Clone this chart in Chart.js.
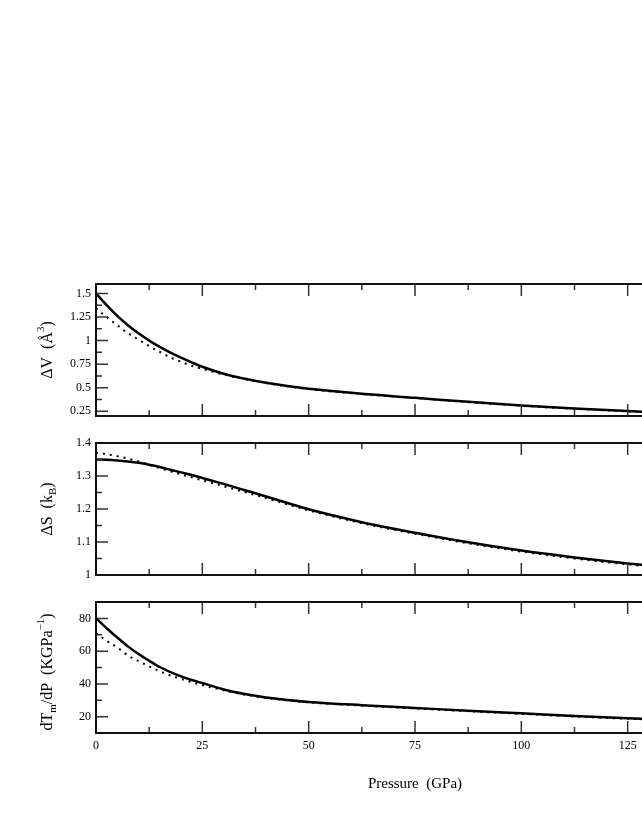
<!DOCTYPE html>
<html><head><meta charset="utf-8">
<script src="https://cdn.jsdelivr.net/npm/chart.js@4.4.1/dist/chart.umd.min.js"></script>
<style>
html,body{margin:0;padding:0;background:#fff;overflow:hidden;width:642px;height:830px;}
canvas{position:absolute;left:0;}
</style></head><body>
<canvas id="c1" width="760" height="150" style="top:274px"></canvas>
<canvas id="c2" width="760" height="150" style="top:433px"></canvas>
<canvas id="c3" width="760" height="238" style="top:592px"></canvas>
<script>
// ---- data ----
const pressure = [0,2.5,5,7.5,10,12.5,15,17.5,20,22.5,25,30,35,40,45,50,62.5,75,87.5,100,112.5,125,130];
const dV_solid  = [1.5,1.375,1.262,1.163,1.077,1.0,0.933,0.872,0.818,0.768,0.722,0.648,0.595,0.552,0.517,0.488,0.435,0.393,0.350,0.312,0.280,0.252,0.243];
const dV_dotted = [1.344,1.25,1.163,1.079,1.01,0.941,0.88,0.822,0.775,0.733,0.700,0.640,0.590,0.549,0.514,0.485,0.432,0.390,0.347,0.309,0.277,0.249,0.240];
const dS_solid  = [1.350,1.349,1.347,1.344,1.340,1.334,1.327,1.319,1.311,1.303,1.294,1.276,1.257,1.238,1.218,1.199,1.160,1.128,1.099,1.074,1.053,1.035,1.029];
const dS_dotted = [1.371,1.366,1.360,1.353,1.344,1.334,1.324,1.314,1.305,1.296,1.287,1.269,1.251,1.233,1.214,1.196,1.157,1.125,1.096,1.071,1.050,1.032,1.026];
const dT_solid  = [80,74,68.3,62.9,58.2,54.1,50.3,47.2,44.6,42.4,40.5,36.6,33.8,31.7,30.2,29.0,27.0,25.3,23.6,22.0,20.4,19.0,18.5];
const dT_dotted = [71,66.3,62.2,57.4,53.9,50.7,47.7,45.1,43.1,41.0,39.3,36.1,33.4,31.4,29.9,28.7,26.7,25.0,23.3,21.7,20.1,18.7,18.2];
const xTicks  = [0,25,50,75,100,125,150];
const dvTicks = [0.25,0.5,0.75,1,1.25,1.5];
const dsTicks = [1,1.1,1.2,1.3,1.4];
const dtTicks = [20,40,60,80];
const xTitle = 'Pressure  (GPa)';

const FONT = "'Liberation Serif','Times New Roman',serif";

function drawRich(ctx, segs, cx, cy) {
  ctx.save();
  ctx.translate(cx, cy);
  ctx.rotate(-Math.PI/2);
  ctx.fillStyle = '#000';
  ctx.textBaseline = 'alphabetic';
  ctx.textAlign = 'left';
  let total = 0;
  segs.forEach(s => { ctx.font = s[1] + 'px ' + FONT; total += ctx.measureText(s[0]).width; });
  let x = -total/2;
  segs.forEach(s => { ctx.font = s[1] + 'px ' + FONT; ctx.fillText(s[0], x, s[2] || 0); x += ctx.measureText(s[0]).width; });
  ctx.restore();
}

const framePlugin = {
  id: 'frame',
  afterDatasetsDraw(chart, args, o) {
    const {ctx, chartArea: a} = chart;
    const x = chart.scales.x, y = chart.scales.y;
    ctx.save();
    ctx.strokeStyle = '#333';
    ctx.lineWidth = 1.5;
    ctx.beginPath();
    const mids = (arr) => { const m = []; const st = arr[1]-arr[0];
      for (let i=-1;i<arr.length;i++){ m.push((i<0?arr[0]-st:arr[i]) + st/2); } return m; };
    const inX = v => v > x.min && v < x.max;
    const inY = v => v > y.min && v < y.max;
    const xt = (vals, len) => vals.filter(inX).forEach(v => { const p = x.getPixelForValue(v);
      ctx.moveTo(p, a.top); ctx.lineTo(p, a.top+len); ctx.moveTo(p, a.bottom); ctx.lineTo(p, a.bottom-len); });
    const yt = (vals, len) => vals.filter(inY).forEach(v => { const p = y.getPixelForValue(v);
      ctx.moveTo(a.left, p); ctx.lineTo(a.left+len, p); ctx.moveTo(a.right, p); ctx.lineTo(a.right-len, p); });
    xt(o.xMajor, 12); xt(mids(o.xMajor), 6);
    yt(o.yMajor, 12); yt(mids(o.yMajor), 6);
    ctx.stroke();
    ctx.strokeStyle = '#111';
    ctx.lineWidth = 2;
    ctx.strokeRect(a.left, a.top, a.right-a.left, a.bottom-a.top);
    ctx.restore();
  },
  afterDraw(chart, args, o) {
    const ctx = chart.ctx;
    drawRich(ctx, o.yTitle, 52, o.titleY - o.canvasTop);
    if (o.xTitle) {
      ctx.save();
      ctx.font = '15px ' + FONT;
      ctx.fillStyle = '#000';
      ctx.textAlign = 'center';
      ctx.textBaseline = 'middle';
      const xs = chart.scales.x;
      ctx.fillText(o.xTitle, (xs.left + xs.right)/2, o.xTitleY - o.canvasTop);
      ctx.restore();
    }
  }
};

function makeChart(id, canvasTop, areaTop, areaBottom, solid, dotted, yMin, yMax, yTicks, yTitle, titleY, showX, xHeight) {
  const pts = arr => pressure.map((p,i) => ({x:p, y:arr[i]}));
  const canvas = document.getElementById(id);
  const padTop = areaTop - canvasTop;
  const padBottom = canvas.height - (areaBottom - canvasTop) - xHeight;
  return new Chart(canvas, {
    type: 'line',
    data: { datasets: [
      { data: pts(dotted), borderColor:'#000', borderWidth:2, borderDash:[2,5], borderCapStyle:'butt', pointRadius:0, cubicInterpolationMode:'monotone', fill:false },
      { data: pts(solid), borderColor:'#000', borderWidth:2.5, pointRadius:0, cubicInterpolationMode:'monotone', fill:false }
    ]},
    options: {
      responsive:false, animation:false, events:[],
      layout:{ autoPadding:false, padding:{ top:padTop, left:0, right:26, bottom:padBottom } },
      plugins:{ legend:{display:false}, tooltip:{enabled:false},
        frame:{ xMajor:xTicks, yMajor:yTicks, yTitle:yTitle, titleY:titleY, canvasTop:canvasTop,
                xTitle: showX ? xTitle : null, xTitleY: 784 } },
      scales:{
        x:{ type:'linear', min:0, max:150,
            afterBuildTicks: s => { s.ticks = xTicks.map(v => ({value:v})); },
            afterFit: s => { s.height = xHeight; s.paddingLeft = 0; s.paddingRight = 0; },
            grid:{display:false, drawTicks:false}, border:{display:false},
            ticks:{ display:showX, padding:6, color:'#000', font:{family:FONT, size:12}, maxRotation:0,
                    callback: v => String(v) } },
        y:{ type:'linear', min:yMin, max:yMax,
            afterBuildTicks: s => { s.ticks = yTicks.map(v => ({value:v})); },
            afterFit: s => { s.width = 96; s.paddingTop = 0; s.paddingBottom = 0; },
            grid:{display:false, drawTicks:false}, border:{display:false},
            ticks:{ padding:5, color:'#000', font:{family:FONT, size:12}, callback: v => String(v) } }
      }
    },
    plugins:[framePlugin]
  });
}

makeChart('c1', 274, 284, 416, dV_solid, dV_dotted, 0.2, 1.6, dvTicks,
  [['ΔV  (Å',16],['3',11,-8],[')',16]], 350, false, 0);
makeChart('c2', 433, 443, 575, dS_solid, dS_dotted, 1.0, 1.4, dsTicks,
  [['ΔS  (k',16],['B',11,4],[')',16]], 509, false, 0);
makeChart('c3', 592, 602, 733, dT_solid, dT_dotted, 10, 90, dtTicks,
  [['dT',16],['m',11,4],['/dP  (KGPa',16],['−1',11,-8],[')',16]], 672, true, 30);
</script>
</body></html>
